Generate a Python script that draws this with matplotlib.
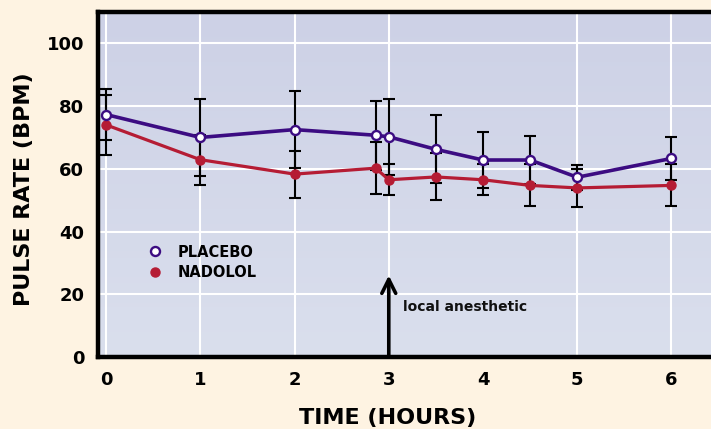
import numpy as np
import matplotlib.pyplot as plt
from matplotlib.lines import Line2D

# time points (hours)
hours = [0, 1, 2, 2.86, 3, 3.5, 4, 4.5, 5, 6]

# pulse rate, mean and error (BPM)
placebo = [77.3, 70.0, 72.5, 70.7, 70.2, 66.2, 62.8, 62.8, 57.3, 63.3]
placebo_err = [8.0, 12.2, 12.2, 11.0, 12.2, 10.8, 9.0, 7.8, 4.0, 6.8]
nadolol = [74.0, 62.9, 58.3, 60.2, 56.5, 57.4, 56.5, 54.7, 53.9, 54.7]
nadolol_err = [9.5, 8.0, 7.5, 8.3, 5.0, 7.5, 5.0, 6.7, 6.0, 6.7]

y_ticks = [0, 20, 40, 60, 80, 100]
x_ticks = [0, 1, 2, 3, 4, 5, 6]
x_grid = [0, 1, 2, 3, 5, 6]

purple = "#3C0C82"
red = "#B51C34"
cream = "#FEF3E2"

fig = plt.figure(figsize=(7.11, 4.29), dpi=100, facecolor=cream)
ax = fig.add_axes([0.138, 0.168, 0.862, 0.804])

xmin, xmax = -0.085, 6.42
ymin, ymax = 0, 110

# soft vertical gradient in the plot area
grad = np.linspace(0, 1, 256).reshape(-1, 1)
top_c = np.array([205, 209, 230]) / 255
bot_c = np.array([218, 223, 237]) / 255
img = top_c * (1 - grad[..., None]) + bot_c * grad[..., None]
ax.imshow(img, extent=[xmin, xmax, ymin, ymax], aspect="auto", origin="upper", zorder=0)

# white grid
for y in y_ticks[1:]:
    ax.axhline(y, color="white", lw=1.5, zorder=1)
for x in x_grid:
    ax.axvline(x, color="white", lw=1.5, zorder=1)

# error bars
ax.errorbar(hours, placebo, yerr=placebo_err, fmt="none", ecolor="black",
            elinewidth=1.5, capsize=4.5, capthick=1.5, zorder=2)
ax.errorbar(hours, nadolol, yerr=nadolol_err, fmt="none", ecolor="black",
            elinewidth=1.5, capsize=4.5, capthick=1.5, zorder=2)

# lines
ax.plot(hours, nadolol, color=red, lw=2.3, marker="o", markersize=6.5,
        markerfacecolor=red, markeredgecolor=red, zorder=3)
ax.plot(hours, placebo, color=purple, lw=2.6, marker="o", markersize=6.5,
        markerfacecolor="white", markeredgecolor=purple, markeredgewidth=1.7, zorder=4)

# arrow for local anesthetic
ax.annotate("", xy=(3, 26), xytext=(3, 0),
            arrowprops=dict(arrowstyle="->,head_length=1.0,head_width=0.5",
                            color="black", lw=2.6, shrinkA=0, shrinkB=0), zorder=5)
ax.text(3.15, 16, "local anesthetic", fontsize=10, fontweight="bold",
        color="#111111", va="center", ha="left", zorder=5)

# legend
handles = [
    Line2D([], [], ls="none", marker="o", markersize=6.5, markerfacecolor="white",
           markeredgecolor=purple, markeredgewidth=1.7),
    Line2D([], [], ls="none", marker="o", markersize=6.5, markerfacecolor=red,
           markeredgecolor=red),
]
leg = ax.legend(handles, ["PLACEBO", "NADOLOL"], frameon=False, loc="center left",
                bbox_to_anchor=(0.06, 0.275), handlelength=1.0, handletextpad=1.0,
                labelspacing=0.35, prop={"weight": "bold", "size": 10.5})

ax.set_xlim(xmin, xmax)
ax.set_ylim(ymin, ymax)
ax.set_xticks(x_ticks)
ax.set_yticks(y_ticks)
ax.tick_params(length=0, labelsize=13, pad=10)
for lab in ax.get_xticklabels() + ax.get_yticklabels():
    lab.set_fontweight("bold")

for side in ["left", "bottom", "top"]:
    ax.spines[side].set_linewidth(3.2)
    ax.spines[side].set_color("black")
ax.spines["right"].set_visible(False)

fig.text(0.034, 0.56, "PULSE RATE (BPM)", rotation=90, fontsize=16,
         fontweight="bold", ha="center", va="center")
fig.text(0.545, 0.025, "TIME (HOURS)", fontsize=16, fontweight="bold",
         ha="center", va="center")

plt.savefig("out.png", dpi=100, facecolor=cream)
